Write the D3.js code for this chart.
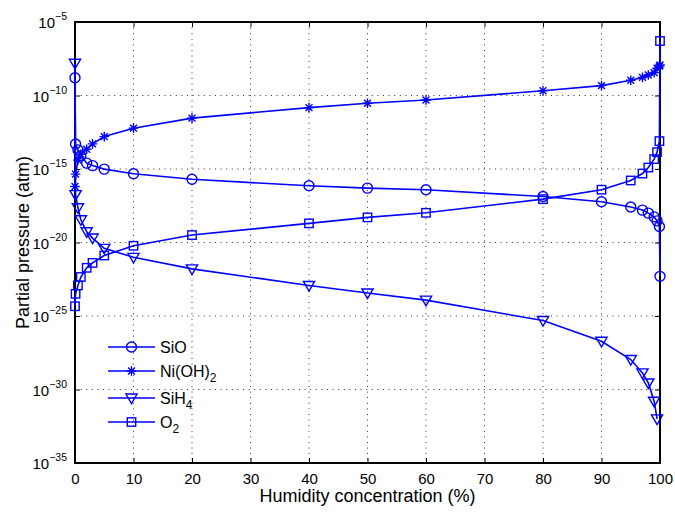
<!DOCTYPE html>
<html>
<head>
<meta charset="utf-8">
<script src="https://cdn.jsdelivr.net/npm/d3@7"></script>
<style>
  html, body { margin: 0; padding: 0; background: #fff; }
  svg { display: block; font-family: "Liberation Sans", Arial, sans-serif; }
</style>
</head>
<body>
<svg id="chart" width="675" height="512"></svg>
<script>
// Humidity concentration (%) at which each partial pressure was computed
const humidity = [0, 0.1, 0.5, 1, 2, 3, 5, 10, 20, 40, 50, 60, 80, 90, 95, 97, 98, 99, 99.5, 99.9, 100];

// Partial pressures (atm)
const sio = [1.6e-9, 5.0e-14, 2.0e-14, 7.9e-15, 2.5e-15, 1.7e-15, 9.8e-16, 4.7e-16, 2.0e-16, 7.2e-17, 5.0e-17,
             3.9e-17, 1.35e-17, 5.9e-18, 2.6e-18, 1.6e-18, 1.0e-18, 5.5e-19, 2.95e-19, 1.23e-19, 5.0e-23];
const niOH2 = [6.5e-17, 4.5e-16, 4.0e-15, 1.0e-14, 2.2e-14, 5.1e-14, 1.6e-13, 6.0e-13, 2.9e-12, 1.5e-11, 3.0e-11,
               5.0e-11, 2.1e-10, 4.7e-10, 1.1e-9, 1.7e-9, 2.5e-9, 3.6e-9, 7.1e-9, 1.0e-8, 1.2e-8];
const sih4 = [1.55e-8, 1.8e-17, 2.3e-18, 3.5e-19, 5.4e-20, 2.0e-20, 4.0e-21, 9.8e-22, 1.6e-22, 1.2e-23, 3.7e-24,
              1.2e-24, 4.9e-26, 1.9e-27, 1.1e-28, 1.35e-29, 2.8e-30, 1.6e-31, 1.0e-32, null, null];
const o2 = [4.6e-25, 3.2e-24, 1.2e-23, 4.5e-23, 1.9e-22, 4.1e-22, 1.3e-21, 6.0e-21, 3.2e-20, 2.0e-19, 5.1e-19,
            1.05e-18, 8.9e-18, 3.9e-17, 1.66e-16, 4.9e-16, 1.26e-15, 4.7e-15, 1.4e-14, 7.9e-14, 5.1e-7];

// Axis ticks
const xTicks = [0, 10, 20, 30, 40, 50, 60, 70, 80, 90, 100];
const yTickExponents = [-35, -30, -25, -20, -15, -10, -5];

const seriesNames = ["SiO", "Ni(OH)2", "SiH4", "O2"];
const seriesValues = [sio, niOH2, sih4, o2];
const seriesMarkers = ["circle", "star", "triangle", "square"];

const svg = d3.select("#chart");
const margin = { left: 75, right: 15, top: 22, bottom: 49 };
const W = 675, H = 512;
const x0 = margin.left, x1 = W - margin.right, y0 = margin.top, y1 = H - margin.bottom;

const x = d3.scaleLinear().domain([0, 100]).range([x0, x1]);
const y = d3.scaleLog().domain([1e-35, 1e-5]).range([y1, y0]);

const blue = "#0000ff";
const tickLen = 5;

// dotted grid
const grid = svg.append("g");
xTicks.slice(1, -1).forEach(t => {
  grid.append("line").attr("x1", x(t)).attr("x2", x(t)).attr("y1", y0).attr("y2", y1)
    .attr("stroke", "#333").attr("stroke-width", 1).attr("stroke-dasharray", "1,4.6");
});
yTickExponents.slice(1, -1).forEach(e => {
  const yy = y(Math.pow(10, e));
  grid.append("line").attr("x1", x0).attr("x2", x1).attr("y1", yy).attr("y2", yy)
    .attr("stroke", "#333").attr("stroke-width", 1).attr("stroke-dasharray", "1,4.6");
});

// axes with inward ticks on all four sides
const xAxisBottom = d3.axisBottom(x).tickValues(xTicks).tickSize(-tickLen).tickPadding(10);
const gx = svg.append("g").attr("transform", `translate(0,${y1})`).call(xAxisBottom);
gx.select(".domain").remove();
gx.selectAll("text").attr("font-size", 15).attr("fill", "#000")
  .attr("font-family", "Liberation Sans, Arial, sans-serif");
gx.selectAll("line").attr("stroke", "#000");

const gxTop = svg.append("g").attr("transform", `translate(0,${y0})`)
  .call(d3.axisTop(x).tickValues(xTicks).tickSize(-tickLen).tickFormat(""));
gxTop.select(".domain").remove();

const yTickVals = yTickExponents.map(e => Math.pow(10, e));
const gy = svg.append("g").attr("transform", `translate(${x0},0)`)
  .call(d3.axisLeft(y).tickValues(yTickVals).tickSize(-tickLen).tickFormat(""));
gy.select(".domain").remove();
const gyR = svg.append("g").attr("transform", `translate(${x1},0)`)
  .call(d3.axisRight(y).tickValues(yTickVals).tickSize(-tickLen).tickFormat(""));
gyR.select(".domain").remove();

// y tick labels as 10 with superscript exponent
yTickExponents.forEach(e => {
  const yy = y(Math.pow(10, e));
  const t = svg.append("text").attr("x", 67).attr("y", yy + 6)
    .attr("text-anchor", "end").attr("font-size", 15).attr("fill", "#000");
  t.append("tspan").text("10");
  t.append("tspan").attr("dy", -8).attr("font-size", 10.5).text("\u2212" + Math.abs(e));
});

// frame
svg.append("rect").attr("x", x0).attr("y", y0).attr("width", x1 - x0).attr("height", y1 - y0)
  .attr("fill", "none").attr("stroke", "#000").attr("stroke-width", 2);

// series
const plot = svg.append("g");
const lineGen = d3.line()
  .defined(d => d[1] != null)
  .x(d => x(d[0])).y(d => y(d[1]));

function drawMarker(g, type, cx, cy) {
  const s = { "stroke": blue, "stroke-width": 1.4, "fill": "none" };
  let m;
  if (type === "circle") {
    m = g.append("circle").attr("cx", cx).attr("cy", cy).attr("r", 5);
  } else if (type === "square") {
    m = g.append("rect").attr("x", cx - 4.2).attr("y", cy - 4.2).attr("width", 8.4).attr("height", 8.4);
  } else if (type === "triangle") {
    m = g.append("path").attr("d", `M${cx - 5.6},${cy - 4} L${cx + 5.6},${cy - 4} L${cx},${cy + 5.6} Z`);
  } else if (type === "star") {
    const r = 4.8, d = r * 0.72;
    m = g.append("path").attr("d",
      `M${cx - r},${cy} L${cx + r},${cy} M${cx},${cy - r} L${cx},${cy + r} ` +
      `M${cx - d},${cy - d} L${cx + d},${cy + d} M${cx - d},${cy + d} L${cx + d},${cy - d}`);
  }
  Object.entries(s).forEach(([k, v]) => m.attr(k, v));
}

seriesValues.forEach((vals, i) => {
  const pts = humidity.map((h, j) => [h, vals[j]]);
  plot.append("path").datum(pts).attr("d", lineGen)
    .attr("fill", "none").attr("stroke", blue).attr("stroke-width", 1.6);
  const mg = plot.append("g");
  pts.filter(p => p[1] != null).forEach(p => drawMarker(mg, seriesMarkers[i], x(p[0]), y(p[1])));
});

// legend
const legend = svg.append("g");
const legendRows = [347, 371, 398, 422];
const labelParts = [["SiO", ""], ["Ni(OH)", "2"], ["SiH", "4"], ["O", "2"]];
seriesNames.forEach((name, i) => {
  const ly = legendRows[i];
  legend.append("line").attr("x1", 108).attr("x2", 155).attr("y1", ly).attr("y2", ly)
    .attr("stroke", blue).attr("stroke-width", 1.6);
  drawMarker(legend, seriesMarkers[i], 131.5, ly);
  const t = legend.append("text").attr("x", 160).attr("y", ly + 6)
    .attr("font-size", 16).attr("fill", "#000");
  t.append("tspan").text(labelParts[i][0]);
  if (labelParts[i][1]) t.append("tspan").attr("dy", 5).attr("font-size", 12).text(labelParts[i][1]);
});

// axis titles
svg.append("text").attr("x", (x0 + x1) / 2).attr("y", 502).attr("text-anchor", "middle")
  .attr("font-size", 18).attr("fill", "#000").text("Humidity concentration (%)");
svg.append("text").attr("transform", `translate(29,${(y0 + y1) / 2}) rotate(-90)`)
  .attr("text-anchor", "middle").attr("font-size", 18).attr("fill", "#000").text("Partial pressure (atm)");
</script>
</body>
</html>
